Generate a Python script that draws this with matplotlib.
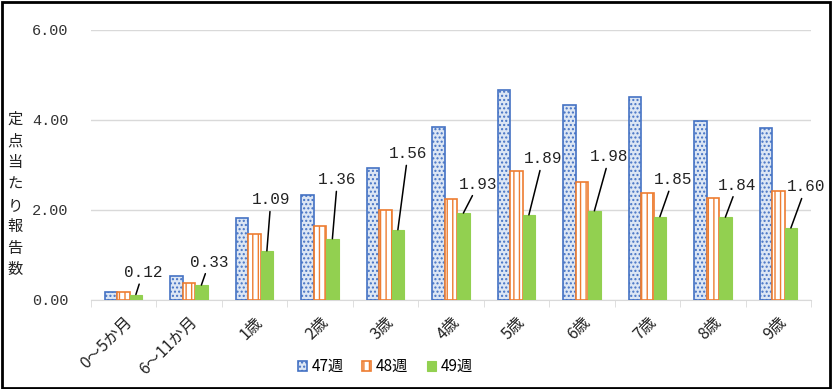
import matplotlib
matplotlib.use("Agg")
import matplotlib.pyplot as plt
from matplotlib.patches import Rectangle
import numpy as np

plt.rcParams['font.family'] = ['Noto Sans CJK JP', 'DejaVu Sans']
plt.rcParams['hatch.linewidth'] = 1.0

categories = ["0～5か月", "6～11か月", "1歳", "2歳", "3歳", "4歳",
              "5歳", "6歳", "7歳", "8歳", "9歳"]
series_names = ["47週", "48週", "49週"]
w47 = [0.18, 0.53, 1.82, 2.33, 2.93, 3.85, 4.67, 4.33, 4.52, 3.98, 3.81]
w48 = [0.18, 0.38, 1.47, 1.65, 2.00, 2.24, 2.87, 2.61, 2.38, 2.27, 2.43]
w49 = [0.12, 0.33, 1.09, 1.36, 1.56, 1.93, 1.89, 1.98, 1.85, 1.84, 1.60]
yticks = [0, 2, 4, 6]

# label offsets (pixels) from green bar top
label_offsets = [(7, 22), (8, 23), (4, 51), (5, 59), (10, 76), (15, 29),
                 (14, 56), (15, 54), (13, 37), (12, 32), (15, 41)]

fig = plt.figure(figsize=(8.32, 3.89), dpi=100)
ax = fig.add_axes([0.109, 0.229, 0.866, 0.694])

x = np.arange(len(categories))
bw = 0.19
ax.bar(x - bw, w47, bw, facecolor="#DCE6F4", edgecolor="#4472C4",
       hatch="....", linewidth=1.2, label=series_names[0], zorder=3)
ax.bar(x, w48, bw, facecolor="white", edgecolor="#ED7D31",
       hatch="|||", linewidth=1.2, label=series_names[1], zorder=3)
ax.bar(x + bw, w49, bw, facecolor="#92D050", edgecolor="#92D050",
       linewidth=0.8, label=series_names[2], zorder=3)

for i, v in enumerate(w49):
    dx, dy = label_offsets[i]
    ax.annotate(f"{v:.2f}", xy=(x[i] + bw, v), xytext=(dx, dy),
                textcoords="offset pixels", ha="center", va="center",
                fontsize=11.5, family=["Liberation Mono"], color="#222222",
                arrowprops=dict(arrowstyle="-", color="black", lw=1.1,
                                shrinkA=1, shrinkB=0), zorder=4)

ax.set_xlim(-0.5, len(categories) - 0.5)
ax.set_ylim(0, 6)
ax.set_yticks(yticks)
ax.set_yticklabels([f"{t:.2f}" for t in yticks], family=["Liberation Mono"],
                   fontsize=11, color="#333333")
ax.tick_params(axis="y", length=0, pad=16)
ax.yaxis.grid(True, color="#D9D9D9", linewidth=1)
ax.set_axisbelow(True)

ax.set_xticks(x)
ax.set_xticklabels(categories, rotation=45, ha="right",
                   rotation_mode="anchor", fontsize=11.5, color="#222222")
ax.tick_params(axis="x", length=0, pad=10)
ax.set_xticks(np.arange(-0.5, len(categories)), minor=True)
ax.tick_params(axis="x", which="minor", length=5, color="#D9D9D9")

for s in ["left", "right", "top"]:
    ax.spines[s].set_visible(False)
ax.spines["bottom"].set_color("#D9D9D9")

fig.text(0.018, 0.50, "\n".join("定点当たり報告数"), ha="center",
         va="center", fontsize=11, linespacing=1.35, color="#222222")

leg = fig.legend(loc="center", bbox_to_anchor=(0.463, 0.057), ncol=3,
                 frameon=False, fontsize=11, handlelength=0.6,
                 handleheight=0.6, handletextpad=0.3, columnspacing=1.2)

fig.patches.append(Rectangle((0.002, 0.003), 0.995, 0.993, fill=False,
                             edgecolor="black", linewidth=2,
                             transform=fig.transFigure))

fig.savefig("out.png", dpi=100)
